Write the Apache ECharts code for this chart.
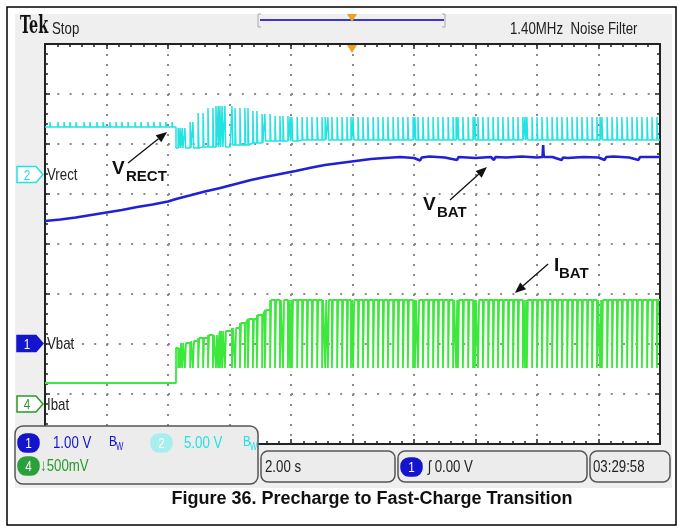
<!DOCTYPE html>
<html>
<head>
<meta charset="utf-8">
<script src="https://cdn.jsdelivr.net/npm/echarts@6/dist/echarts.min.js"></script>
<style>
html, body { margin: 0; padding: 0; background: #fff; }
#scope { width: 681px; height: 529px; }
</style>
</head>
<body>
<div id="scope"></div>
<script>
// horizontal: 2.00 s/div, 10 div centred on the trigger; vertical: screen divisions (8 div)
var timeRange = [-10, 10];
var divRange = [-4, 4];

// charge pauses (s) - same instants show on Vrect and Ibat
var pulseTimes = [-5.67,-5.61,-5.54,-5.45,-5.28,-5.19,-5.02,-4.86,-4.70,-4.54,-4.44,-4.37,-4.31,-4.24,-4.15,
  -3.92,-3.82,-3.66,-3.50,-3.40,-3.24,-3.11,-2.94,-2.85,-2.68,-2.52,-2.36,-2.26,-2.10,-2.03,-1.97,-1.80,
  -1.64,-1.48,-1.32,-1.15,-0.99,-0.89,-0.80,-0.67,-0.50,-0.34,-0.18,-0.05,0.02,0.18,0.34,0.50,0.67,0.83,
  0.99,1.15,1.32,1.48,1.64,1.80,1.97,2.03,2.13,2.29,2.46,2.62,2.78,2.94,3.11,3.27,3.37,3.43,3.59,3.76,
  3.92,3.98,4.08,4.24,4.41,4.57,4.73,4.89,5.06,5.22,5.38,5.54,5.61,5.67,5.84,6.00,6.16,6.33,6.49,6.65,
  6.81,6.98,7.14,7.30,7.46,7.63,7.79,7.95,8.05,8.11,8.28,8.44,8.60,8.76,8.93,9.09,9.25,9.41,9.58,9.74,9.90];

// Vrect (ch2) - small ripple before the transition
var vrectPreTicks = [-9.84,-9.58,-9.38,-9.19,-8.99,-8.73,-8.54,-8.31,-8.11,-7.89,-7.69,-7.50,-7.30,-7.07,
  -6.88,-6.65,-6.46,-6.26,-6.07,-5.87];
var vrectBase = [[-10,2.34],[-5.74,1.92],[-4.96,1.94],[-3.98,1.98],[-3.33,2.02],[-2.85,2.06],[-1.71,2.08]];
var vrectTop = [[-10,2.44],[-5.74,2.32],[-5.38,2.44],[-5.09,2.62],[-4.80,2.72],[-4.47,2.76],[-3.82,2.72],
  [-3.33,2.66],[-2.94,2.60],[-2.62,2.56],[-2.03,2.54]];

// Vbat (ch1)
var vbatPoints = [[-10,0.46],[-9.5,0.49],[-9.0,0.53],[-8.5,0.58],[-8.0,0.63],[-7.5,0.68],[-7.0,0.74],
  [-6.5,0.79],[-6.0,0.85],[-5.74,0.90],[-5.3,0.97],[-4.8,1.05],[-4.3,1.12],[-3.8,1.20],[-3.3,1.28],
  [-2.85,1.34],[-2.35,1.40],[-1.85,1.46],[-1.4,1.52],[-0.9,1.58],[-0.4,1.62],[0.1,1.66],[0.6,1.70],
  [1.05,1.72],[1.55,1.74],[2.0,1.72],[2.2,1.67],[2.25,1.73],[2.5,1.75],[3.0,1.73],[3.4,1.68],[3.45,1.74],
  [4.0,1.72],[4.5,1.74],[4.6,1.68],[4.65,1.74],[5.0,1.73],[5.5,1.75],[6.0,1.73],[6.18,1.74],[6.2,1.98],
  [6.22,1.74],[6.5,1.74],[6.8,1.68],[6.85,1.73],[7.0,1.72],[7.5,1.74],[8.0,1.73],[8.2,1.68],[8.25,1.74],
  [8.5,1.75],[9.0,1.73],[9.3,1.68],[9.35,1.74],[9.5,1.74],[10,1.74]];

// Ibat (ch4) - staircase during precharge, then fast charge level
var ibatTop = [[-10,-2.78],[-5.74,-2.08],[-5.58,-1.98],[-5.28,-1.94],[-5.02,-1.88],[-4.70,-1.82],[-4.31,-1.74],
  [-3.92,-1.68],[-3.66,-1.58],[-3.40,-1.50],[-3.11,-1.42],[-2.85,-1.32],[-2.68,-1.12]];
var ibatLow = [[-10,-2.48]];

// channel ground markers
var chanNums = ['2', '1', '4'];
var chanNames = ['Vrect', 'Vbat', 'Ibat'];
var chanLevels = [1.39, -1.99, -3.20];

// annotations: label, anchor [t, div], arrow tail, arrow head
var noteMain = ['V', 'V', 'I'];
var noteSub = ['RECT', 'BAT', 'BAT'];
var noteAt = [[-7.82,1.51],[2.29,0.78],[6.55,-0.43]];
var noteTail = [[-7.30,1.62],[3.17,0.88],[6.36,-0.40]];
var noteHead = [[-6.03,2.24],[4.37,1.54],[5.28,-0.98]];

var CYAN = '#22e2e2', BLUE = '#2020d4', GREEN = '#3ce83c';
var SANS = '"Liberation Sans",Arial,sans-serif';
var NARROW = 0.78;  // squeeze for the scope's condensed font

function stepAt(steps, t) {
    var v = steps[0][1]
    steps.forEach(function (s) { if (s[0] <= t) v = s[1] })
    return v
}
function buildTrace(baseSteps, spikeSteps, spikes, w) {
    var pts = baseSteps.map(function (s) { return [s[0], s[1]] })
    spikes.forEach(function (t) {
        pts.push([t, stepAt(spikeSteps, t)])
        pts.push([t + w, stepAt(baseSteps, t + w)])
    })
    pts.sort(function (a, b) { return a[0] - b[0] })
    pts.push([timeRange[1], stepAt(baseSteps, timeRange[1])])
    return pts
}

var frameAxis = function (pos, split) {
    return {
        type: 'value', min: timeRange[0], max: timeRange[1], interval: 2, position: pos,
        axisLine: { show: true, onZero: false, lineStyle: { color: '#222', width: 2 } },
        axisTick: { show: true, inside: true, length: 5, lineStyle: { color: '#222', width: 1.5 } },
        minorTick: { show: true, splitNumber: 5, length: 3, lineStyle: { color: '#222', width: 1.5 } },
        axisLabel: { show: false },
        splitLine: { show: split, lineStyle: { color: '#8a8a8a', width: 2, type: [2, 8] } }
    }
}
var frameYAxis = function (pos, split) {
    return {
        type: 'value', min: divRange[0], max: divRange[1], interval: 1, position: pos,
        axisLine: { show: true, onZero: false, lineStyle: { color: '#222', width: 2 } },
        axisTick: { show: true, inside: true, length: 5, lineStyle: { color: '#222', width: 1.5 } },
        minorTick: { show: true, splitNumber: 5, length: 3, lineStyle: { color: '#222', width: 1.5 } },
        axisLabel: { show: false },
        splitLine: { show: split, lineStyle: { color: '#8a8a8a', width: 2, type: [2, 10.3] } }
    }
}

var chart = echarts.init(document.getElementById('scope'))
chart.setOption({
    animation: false,
    backgroundColor: '#fff',
    grid: { left: 45, top: 44, width: 615, height: 400, show: true, backgroundColor: '#fff', borderWidth: 0 },
    xAxis: [frameAxis('bottom', true), frameAxis('top', false)],
    yAxis: [frameYAxis('left', true), frameYAxis('right', false)],
    series: [
        {
            name: 'Vrect', type: 'line', step: 'end', symbol: 'none', z: 3,
            data: buildTrace(vrectBase, vrectTop, vrectPreTicks.concat(pulseTimes), 0.025),
            lineStyle: { color: CYAN, width: 1.5 }
        },
        {
            name: 'Vbat', type: 'line', symbol: 'none', z: 4,
            data: vbatPoints,
            lineStyle: { color: BLUE, width: 2.6 }
        },
        {
            name: 'Ibat', type: 'line', step: 'end', symbol: 'none', z: 3,
            data: buildTrace(ibatTop, ibatLow, pulseTimes, 0.035),
            lineStyle: { color: GREEN, width: 1.8 }
        }
    ]
})

function px(p) { return chart.convertToPixel({ xAxisIndex: 0, yAxisIndex: 0 }, p) }
function txt(x, y, s, size, color, opt) {
    opt = opt || {}
    return {
        type: 'text', z: opt.z || 120, x: x, y: y, scaleX: opt.sx || 1,
        style: {
            text: s, x: 0, y: 0, fill: color, fontSize: size,
            fontFamily: opt.family || SANS, fontWeight: opt.weight || 'normal',
            textAlign: opt.align || 'left', align: opt.align || 'left',
            textVerticalAlign: 'middle', verticalAlign: 'middle'
        }
    }
}
function scopeTxt(x, y, s, size, color, align) {
    return txt(x, y, s, size, color, { sx: NARROW, align: align })
}
function badge(x, y, n, fill, color) {
    return [
        { type: 'rect', z: 115, shape: { x: x, y: y - 9, width: 21, height: 18, r: 8 },
          style: { fill: fill, stroke: fill, lineWidth: 1.5 } },
        scopeTxt(x + 10.5, y + 1, n, 15, color, 'center')
    ]
}

var g = []
// screen and outer frame
g.push({ type: 'rect', z: -10, shape: { x: 15, y: 14, width: 657, height: 474 }, style: { fill: '#efefef' } })
g.push({ type: 'rect', z: 200, shape: { x: 7, y: 7, width: 669, height: 518 }, style: { fill: null, stroke: '#000', lineWidth: 1.5 } })

// header
g.push(txt(20, 27, 'Tek', 24, '#111', { family: '"DejaVu Serif",serif', weight: 'bold', sx: 0.6 }))
g.push(scopeTxt(52, 29, 'Stop', 17, '#222'))
g.push(scopeTxt(510, 29, '1.40MHz  Noise Filter', 17, '#222'))
g.push({ type: 'polyline', z: 110, shape: { points: [[261, 14], [258, 14], [258, 27], [261, 27]] }, style: { stroke: '#aaa', lineWidth: 1 } })
g.push({ type: 'polyline', z: 110, shape: { points: [[442, 14], [445, 14], [445, 27], [442, 27]] }, style: { stroke: '#aaa', lineWidth: 1 } })
g.push({ type: 'line', z: 110, shape: { x1: 260, y1: 20, x2: 444, y2: 20 }, style: { stroke: '#3838d0', lineWidth: 2 } })
g.push({ type: 'polygon', z: 111, shape: { points: [[347, 14], [357, 14], [352, 22]] }, style: { fill: '#f0a020' } })
g.push({ type: 'polygon', z: 111, shape: { points: [[347, 45], [357, 45], [352, 53]] }, style: { fill: '#f0a020' } })

// channel markers
var chanFill = ['#fff', '#1414cc', '#fff']
var chanStroke = [CYAN, '#1414cc', '#2a9a2a']
var chanText = [CYAN, '#fff', '#2a9a2a']
chanLevels.forEach(function (lv, i) {
    var y = px([0, lv])[1]
    g.push({ type: 'polygon', z: 110, shape: { points: [[17, y - 8], [36, y - 8], [43, y], [36, y + 8], [17, y + 8]] },
             style: { fill: chanFill[i], stroke: chanStroke[i], lineWidth: 1.5 } })
    g.push(scopeTxt(27, y + 1, chanNums[i], 15, chanText[i], 'center'))
    g.push(scopeTxt(47, y + 1, chanNames[i], 17, '#222'))
})

// annotations
noteMain.forEach(function (m, i) {
    var a = px(noteAt[i]), t = px(noteTail[i]), h = px(noteHead[i])
    var dx = h[0] - t[0], dy = h[1] - t[1], L = Math.sqrt(dx * dx + dy * dy)
    var ux = dx / L, uy = dy / L
    var bx = h[0] - ux * 11, by = h[1] - uy * 11
    g.push({ type: 'line', z: 120, shape: { x1: t[0], y1: t[1], x2: bx, y2: by }, style: { stroke: '#111', lineWidth: 1.3 } })
    g.push({ type: 'polygon', z: 120, shape: { points: [[h[0], h[1]], [bx - uy * 4.5, by + ux * 4.5], [bx + uy * 4.5, by - ux * 4.5]] }, style: { fill: '#111' } })
    g.push(txt(a[0], a[1], m, 19, '#111', { weight: 'bold' }))
    g.push(txt(a[0] + (m === 'I' ? 5 : 14), a[1] + 8, noteSub[i], 15, '#111', { weight: 'bold' }))
})

// status boxes
var boxStyle = { fill: '#ececec', stroke: '#555', lineWidth: 1.5 }
g.push({ type: 'rect', z: 112, shape: { x: 15, y: 426, width: 243, height: 58, r: 8 }, style: boxStyle })
g = g.concat(badge(18, 443, '1', '#1414cc', '#fff'))
g.push(scopeTxt(53, 443, '1.00 V', 17, '#1414cc'))
g.push(scopeTxt(109, 442, 'B', 15, '#1414cc'))
g.push(scopeTxt(116, 447, 'W', 10, '#1414cc'))
g = g.concat(badge(151, 443, '2', '#a8eeee', '#fff'))
g.push(scopeTxt(184, 443, '5.00 V', 17, CYAN))
g.push(scopeTxt(243, 442, 'B', 15, CYAN))
g.push(scopeTxt(250, 447, 'W', 10, CYAN))
g = g.concat(badge(18, 466, '4', '#2aa03a', '#fff'))
g.push(scopeTxt(40, 466, '\u2193500mV', 17, '#2a9a2a'))

g.push({ type: 'rect', z: 112, shape: { x: 261, y: 451, width: 134, height: 31, r: 7 }, style: boxStyle })
g.push(scopeTxt(265, 467, '2.00 s', 17, '#222'))
g.push({ type: 'rect', z: 112, shape: { x: 398, y: 451, width: 189, height: 31, r: 7 }, style: boxStyle })
g = g.concat(badge(401, 467, '1', '#1414cc', '#fff'))
g.push(scopeTxt(428, 467, '\u0283 0.00 V', 17, '#222'))
g.push({ type: 'rect', z: 112, shape: { x: 590, y: 451, width: 80, height: 31, r: 7 }, style: boxStyle })
g.push(scopeTxt(593, 467, '03:29:58', 17, '#222'))

// caption
g.push(txt(372, 499, 'Figure 36. Precharge to Fast-Charge Transition', 18, '#111', { weight: 'bold', align: 'center' }))

chart.setOption({ graphic: { elements: g } })
</script>
</body>
</html>
